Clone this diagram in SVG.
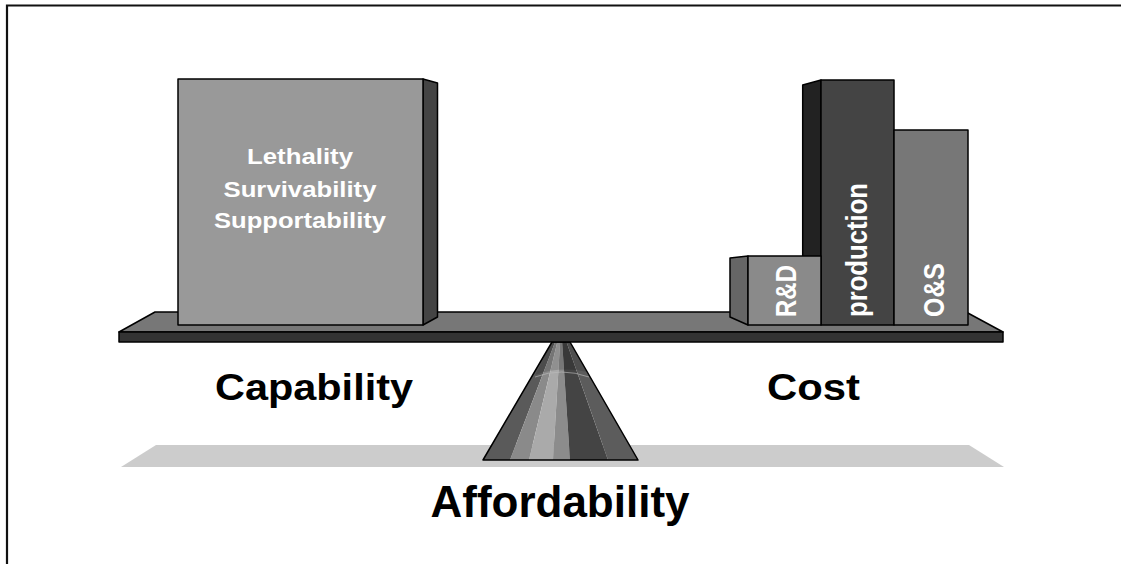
<svg xmlns="http://www.w3.org/2000/svg" width="1121" height="564" viewBox="0 0 1121 564">
<style>
.ol{stroke:#000;stroke-width:1.5;stroke-linejoin:round}
.lbl{font-family:"Liberation Sans",Arial,sans-serif;font-weight:bold;fill:#000}
.wl{font-family:"Liberation Sans",Arial,sans-serif;font-weight:bold;fill:#fff}
</style>
<rect width="1121" height="564" fill="#fff"/>
<path d="M7,564 V5.5 H1121" fill="none" stroke="#111" stroke-width="2.2"/>
<g id="ground">
<polygon points="121,467 156,445 969,445 1004,467" fill="#cccccc"/>
</g>
<g id="fulcrum">
<polygon points="552,342 555.1,342 510,460 483,460" fill="#5a5a5a"/>
<polygon points="555.1,342 557.3,342 529,460 510,460" fill="#8a8a8a"/>
<polygon points="557.3,342 560.1,342 553,460 529,460" fill="#aaaaaa"/>
<polygon points="560.1,342 562.1,342 570,460 553,460" fill="#8c8c8c"/>
<polygon points="562.1,342 566.5,342 608,460 570,460" fill="#444444"/>
<polygon points="566.5,342 570,342 638,460 608,460" fill="#5c5c5c"/>
<path d="M552,342 H570 L587,372 Q561,366 535,375 Z" fill="#000" opacity="0.15"/>
<path d="M535,377 Q561,367 589,377" fill="none" stroke="#bbb" stroke-width="0.8" opacity="0.8"/>
<polygon class="ol" points="552,342 570,342 638,460 483,460" fill="none"/>
</g>
<g id="plank">
<polygon class="ol" points="119,332 155,312 966,312 1003,332" fill="#777777"/>
<rect class="ol" x="119" y="332" width="884" height="10" fill="#333333"/>
</g>
<g id="capability-box">
<polygon class="ol" points="423,79 437.5,83 437.5,317 423,325" fill="#444444"/>
<rect class="ol" x="178" y="79" width="245" height="246" fill="#999999"/>
<text class="wl" font-size="22.5" text-anchor="middle" x="300" y="164" textLength="106" lengthAdjust="spacingAndGlyphs">Lethality</text>
<text class="wl" font-size="22.5" text-anchor="middle" x="300" y="197" textLength="153" lengthAdjust="spacingAndGlyphs">Survivability</text>
<text class="wl" font-size="22.5" text-anchor="middle" x="300" y="228" textLength="172" lengthAdjust="spacingAndGlyphs">Supportability</text>
</g>
<g id="production">
<polygon class="ol" points="802.7,85 821,80 821,257 802.7,257" fill="#222222"/>
<rect class="ol" x="821" y="80" width="73" height="245" fill="#444444"/>
<text class="wl" font-size="24" transform="translate(867,317) scale(1.2,1) rotate(-90)" textLength="134" lengthAdjust="spacingAndGlyphs">production</text>
</g>
<g id="rd">
<polygon class="ol" points="730,258 748,256 748,325 730,317" fill="#666666"/>
<rect class="ol" x="748" y="256" width="73" height="69" fill="#8a8a8a"/>
<text class="wl" font-size="24" transform="translate(796,317) scale(1.2,1) rotate(-90)" textLength="52" lengthAdjust="spacingAndGlyphs">R&amp;D</text>
</g>
<g id="os">
<rect class="ol" x="894" y="130" width="74" height="195" fill="#777777"/>
<text class="wl" font-size="24" transform="translate(944,317) scale(1.2,1) rotate(-90)" textLength="54" lengthAdjust="spacingAndGlyphs">O&amp;S</text>
</g>
<g id="labels">
<text class="lbl" font-size="36" x="314" y="400" text-anchor="middle" textLength="198" lengthAdjust="spacingAndGlyphs">Capability</text>
<text class="lbl" font-size="36" x="767" y="400" textLength="93" lengthAdjust="spacingAndGlyphs">Cost</text>
<text class="lbl" font-size="44" x="560" y="517" text-anchor="middle" textLength="259" lengthAdjust="spacingAndGlyphs">Affordability</text>
</g>
</svg>
